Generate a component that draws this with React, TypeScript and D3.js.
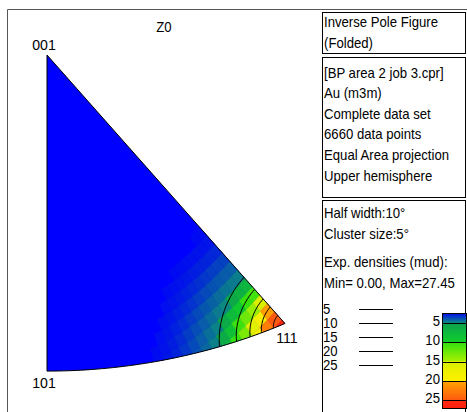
import React, { useMemo } from 'react';
import * as d3 from 'd3';

const W = 467;
const H = 412;

// text panels on the right
const titleLines = ['Inverse Pole Figure', '(Folded)'];
const infoLines = [
  '[BP area 2 job 3.cpr]',
  'Au (m3m)',
  'Complete data set',
  '6660 data points',
  'Equal Area projection',
  'Upper hemisphere',
];
const settingsLines = ['Half width:10°', 'Cluster size:5°', 'Exp. densities (mud):', 'Min= 0.00, Max=27.45'];
const chartTitle = 'Z0';

// corners of the standard triangle
const poles = [
  { label: '001', v: [0, 0, 1] },
  { label: '101', v: [1, 0, 1] },
  { label: '111', v: [1, 1, 1] },
];

const contourLevels = [5, 10, 15, 20, 25];
const densityMax = 27.45;

// density: angular distance from 111 (deg) -> m.u.d.
const profileAngle = [0, 1, 2, 3, 4, 5, 6, 7, 8, 9, 10, 12, 14, 16, 18, 20, 90];
const profileDensity = [27.45, 26.4, 24.6, 21.8, 18.9, 16.0, 13.3, 10.9, 8.8, 6.9, 5.0, 3.6, 2.4, 1.2, 0.4, 0, 0];

// colour segments of the legend bar (one per 5 m.u.d.)
const segStops = [0, 5, 10, 15, 20, 25];
const segColors = [
  ['#0008f4', '#0c8a80'],
  ['#0ca050', '#10d028'],
  ['#30e010', '#a8f000'],
  ['#d8f000', '#fff000'],
  ['#ffa400', '#ff5a10'],
  ['#ff2a10', '#ff2010'],
];

const font = '"Liberation Sans", Arial, sans-serif';
const SX = 0.94; // the picture is squeezed horizontally

const norm = (v: number[]) => {
  const l = Math.hypot(v[0], v[1], v[2]);
  return [v[0] / l, v[1] / l, v[2] / l];
};

// equal area projection; "down" is toward 101, "right" toward 010
const xScale = d3.scaleLinear().domain([0, 1]).range([47, 47 + 366]);
const yScale = d3.scaleLinear().domain([0, 1]).range([55, 55 + 413]);
const project = (v: number[]): [number, number] => {
  const [a, b, c] = norm(v);
  const r = Math.sqrt(Math.max(0, 2 * (1 - c)));
  const phi = Math.atan2(b, a);
  return [xScale(r * Math.sin(phi)), yScale(r * Math.cos(phi))];
};

const angleDeg = (u: number[], v: number[]) => {
  const a = norm(u), b = norm(v);
  const d = Math.min(1, a[0] * b[0] + a[1] * b[1] + a[2] * b[2]);
  return (Math.acos(d) * 180) / Math.PI;
};

const densityAt = d3.scaleLinear().domain(profileAngle).range(profileDensity).clamp(true);

const colorOf = (d: number) => {
  let i = d3.bisectRight(segStops, d) - 1;
  i = Math.max(0, Math.min(segColors.length - 1, i));
  const lo = segStops[i];
  const hi = i + 1 < segStops.length ? segStops[i + 1] : densityMax;
  const t = Math.max(0, Math.min(1, (d - lo) / (hi - lo)));
  return d3.interpolateRgb(segColors[i][0], segColors[i][1])(t);
};

const T = ({ x, y, children, anchor = 'start', size = 14 }: any) => (
  <text
    transform={`translate(${x},${y}) scale(${SX},1)`}
    textAnchor={anchor}
    fontFamily={font}
    fontSize={size}
    fill="#000"
  >
    {children}
  </text>
);

export default function App() {
  const line = d3.line();

  const trianglePath = useMemo(() => {
    const pts: [number, number][] = [project([0, 0, 1]), project([1, 0, 1])];
    d3.range(0, 1.0001, 0.02).forEach((u) => pts.push(project([1, u, 1])));
    return line(pts) + 'Z';
  }, []);

  const cells = useMemo(() => {
    const step = 1.8;
    const out: { d: string; fill: string }[] = [];
    const deg = Math.PI / 180;
    const dir = (th: number, ph: number) => [
      Math.sin(th * deg) * Math.cos(ph * deg),
      Math.sin(th * deg) * Math.sin(ph * deg),
      Math.cos(th * deg),
    ];
    for (let th = 0; th < 57; th += step) {
      for (let ph = 0; ph < 46; ph += step) {
        const dens = densityAt(angleDeg(dir(th + step / 2, ph + step / 2), [1, 1, 1]));
        if (dens <= 0.05) continue;
        const corners = [dir(th, ph), dir(th + step, ph), dir(th + step, ph + step), dir(th, ph + step)].map(project);
        out.push({ d: line(corners as [number, number][]) + 'Z', fill: colorOf(dens) });
      }
    }
    return out;
  }, []);

  const contours = useMemo(() => {
    const n = norm([1, 1, 1]);
    const e1 = norm([1, -1, 0]);
    const e2 = norm([1, 1, -2]);
    const levelAngle = d3
      .scaleLinear()
      .domain(profileDensity.slice(0, 11).reverse())
      .range(profileAngle.slice(0, 11).reverse());
    return contourLevels.map((lv) => {
      const a = (levelAngle(lv) * Math.PI) / 180;
      const pts = d3.range(0, 361, 3).map((p) => {
        const ps = (p * Math.PI) / 180;
        const v = [0, 1, 2].map(
          (k) => Math.cos(a) * n[k] + Math.sin(a) * (Math.cos(ps) * e1[k] + Math.sin(ps) * e2[k])
        );
        return project(v);
      });
      return line(pts as [number, number][]);
    });
  }, []);

  // legend bar
  const barScale = d3.scaleLinear().domain([0, 5, 25, densityMax]).range([313, 323, 400, 408]);
  const barX = 442;
  const barW = 24;
  const barStrips = d3.range(313, 408, 1);

  const infoY = d3.scaleLinear().domain([0, 1]).range([77.5, 98.1]);
  const listY = d3.scaleLinear().domain([0, 1]).range([309, 323]);

  return (
    <svg width={W} height={H} style={{ position: 'absolute', left: 0, top: 0, background: '#fff' }}>
      {/* outer frame */}
      <path d={`M7.5,${H}V9.5H${W}`} fill="none" stroke="#555" strokeWidth={1} />

      {/* triangle */}
      <defs>
        <clipPath id="tri">
          <path d={trianglePath} />
        </clipPath>
      </defs>
      <path d={trianglePath} fill="#0000ff" />
      <g clipPath="url(#tri)">
        {cells.map((c, i) => (
          <path key={i} d={c.d} fill={c.fill} stroke={c.fill} strokeWidth={0.6} />
        ))}
        {contours.map((d, i) => (
          <path key={i} d={d || ''} fill="none" stroke="#000" strokeWidth={1} />
        ))}
      </g>
      <path d={trianglePath} fill="none" stroke="#000" strokeWidth={1} />

      <T x={164} y={32} anchor="middle">{chartTitle}</T>
      {poles.map((p) => {
        const [px, py] = project(p.v);
        const off = p.label === '001' ? [-3, -5] : p.label === '101' ? [-3, 17] : [2, 20];
        return (
          <T key={p.label} x={px + off[0]} y={py + off[1]} anchor="middle" size={15}>
            {p.label}
          </T>
        );
      })}

      {/* right panels */}
      <rect x={322.5} y={12.5} width={143} height={41} fill="none" stroke="#000" />
      <rect x={322.5} y={57.5} width={143} height={140} fill="none" stroke="#000" />
      <rect x={322.5} y={200.5} width={143} height={230} fill="none" stroke="#000" />

      {titleLines.map((t, i) => (
        <T key={t} x={324} y={27 + i * 20.5}>{t}</T>
      ))}
      {infoLines.map((t, i) => (
        <T key={t} x={324} y={infoY(i)}>{t}</T>
      ))}
      {settingsLines.map((t, i) => (
        <T key={t} x={324} y={[218, 238.5, 267, 287.5][i]}>{t}</T>
      ))}

      {contourLevels.map((lv, i) => (
        <g key={lv}>
          <T x={323} y={listY(i) + 5}>{lv}</T>
          <line x1={359} x2={393} y1={listY(i) + 0.5} y2={listY(i) + 0.5} stroke="#000" />
        </g>
      ))}

      {barStrips.map((y) => (
        <rect key={y} x={barX} y={y} width={barW} height={1.05} fill={colorOf(barScale.invert(y + 0.5))} />
      ))}
      {contourLevels.map((lv) => (
        <g key={lv}>
          <line
            x1={barX}
            x2={barX + barW}
            y1={Math.round(barScale(lv)) + 0.5}
            y2={Math.round(barScale(lv)) + 0.5}
            stroke="#000"
          />
          <T x={440} y={barScale(lv) + 3} anchor="end">{lv}</T>
        </g>
      ))}
      <rect x={barX + 0.5} y={313.5} width={barW} height={95} fill="none" stroke="#000" />
    </svg>
  );
}
